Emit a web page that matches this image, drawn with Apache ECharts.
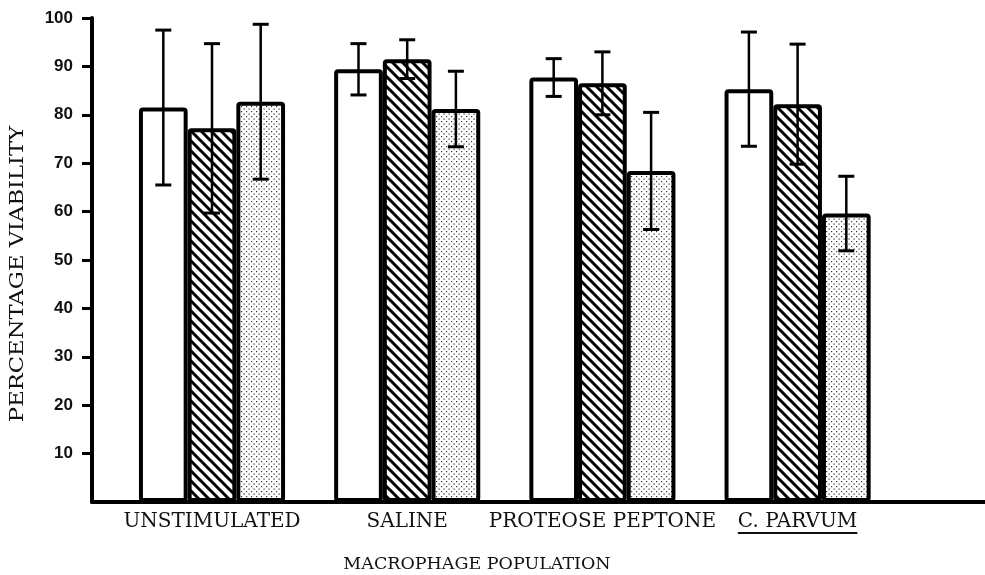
<!DOCTYPE html>
<html>
<head>
<meta charset="utf-8">
<script src="https://cdn.jsdelivr.net/npm/echarts@6/dist/echarts.min.js"></script>
<style>
  html, body { margin: 0; padding: 0; background: #fff; }
  #chart { width: 985px; height: 575px; }
</style>
</head>
<body>
<div id="chart"></div>
<script>
// macrophage groups on the x axis
var categories = ['UNSTIMULATED', 'SALINE', 'PROTEOSE PEPTONE', 'C. PARVUM']
var yTicks = [10, 20, 30, 40, 50, 60, 70, 80, 90, 100]

// mean viability (%) and error (+/-) for the three bar kinds
var openMean = [81.5, 89.4, 87.7, 85.3]
var openErr = [16.0, 5.3, 3.9, 11.8]
var hatchMean = [77.2, 91.5, 86.5, 82.2]
var hatchErr = [17.5, 4.0, 6.5, 12.4]
var dotMean = [82.7, 81.2, 68.4, 59.6]
var dotErr = [16.0, 7.8, 12.1, 7.7]

var barW = 48.7
var serif = '"DejaVu Serif", "Liberation Serif", serif'

function hatchFill() {
  var c = document.createElement('canvas')
  c.width = 10
  c.height = 10
  var g = c.getContext('2d')
  g.fillStyle = '#fff'
  g.fillRect(0, 0, 10, 10)
  g.strokeStyle = '#000'
  g.lineWidth = 3
  g.beginPath()
  g.moveTo(-5, -5); g.lineTo(15, 15)
  g.moveTo(-5, 5); g.lineTo(5, 15)
  g.moveTo(5, -5); g.lineTo(15, 5)
  g.stroke()
  return { image: c, repeat: 'repeat' }
}

function dotFill() {
  var c = document.createElement('canvas')
  c.width = 5
  c.height = 5
  var g = c.getContext('2d')
  g.fillStyle = '#fff'
  g.fillRect(0, 0, 5, 5)
  g.fillStyle = '#333'
  g.fillRect(1, 1, 1.2, 1.2)
  g.fillRect(3.5, 3.5, 1.2, 1.2)
  return { image: c, repeat: 'repeat' }
}

function barSeries(values, fill) {
  return {
    type: 'bar',
    xAxisIndex: 1,
    yAxisIndex: 1,
    data: values,
    barWidth: barW,
    barGap: '0%',
    itemStyle: { color: fill, borderColor: '#000', borderWidth: 4, borderRadius: 2 }
  }
}

function errSeries(values, err, slot) {
  return {
    type: 'custom',
    xAxisIndex: 1,
    yAxisIndex: 1,
    z: 5,
    encode: { x: 0, y: [1, 2] },
    data: values.map(function (v, i) { return [i, v - err[i], v + err[i]] }),
    renderItem: function (params, api) {
      var lo = api.coord([api.value(0), api.value(1)])
      var hi = api.coord([api.value(0), api.value(2)])
      var x = lo[0] + (slot - 1) * barW
      var st = { stroke: '#000', lineWidth: 2.5 }
      var cap = { stroke: '#000', lineWidth: 3 }
      return {
        type: 'group',
        children: [
          { type: 'line', shape: { x1: x, y1: hi[1], x2: x, y2: lo[1] }, style: st },
          { type: 'line', shape: { x1: x - 8, y1: hi[1], x2: x + 8, y2: hi[1] }, style: cap },
          { type: 'line', shape: { x1: x - 8, y1: lo[1], x2: x + 8, y2: lo[1] }, style: cap }
        ]
      }
    }
  }
}

var chart = echarts.init(document.getElementById('chart'))
var labelMargin = 10
var catFont = 20

chart.setOption({
  animation: false,
  backgroundColor: '#fff',
  grid: [
    { left: 92, right: 0, top: 18, bottom: 73, outerBoundsMode: 'none' },
    { left: 114.4, right: 89.8, top: 18, bottom: 73, outerBoundsMode: 'none' }
  ],
  xAxis: [
    {
      gridIndex: 0,
      type: 'value',
      min: 0,
      max: 1,
      axisLine: { show: true, lineStyle: { color: '#000', width: 4 } },
      axisTick: { show: false },
      axisLabel: { show: false },
      splitLine: { show: false }
    },
    {
      gridIndex: 1,
      type: 'category',
      data: categories,
      axisLine: { show: false },
      axisTick: { show: false },
      splitLine: { show: false },
      axisLabel: { margin: labelMargin, color: '#111', fontFamily: serif, fontSize: catFont, interval: 0 }
    }
  ],
  yAxis: [
    {
      gridIndex: 0,
      type: 'value',
      min: 0,
      max: 100,
      interval: 10,
      splitLine: { show: false },
      axisLine: { show: true, lineStyle: { color: '#000', width: 4 } },
      axisTick: { show: true, length: 10, customValues: yTicks, lineStyle: { color: '#000', width: 3 } },
      axisLabel: {
        customValues: yTicks,
        margin: 19,
        color: '#111',
        fontFamily: '"Liberation Sans", Arial, sans-serif',
        fontWeight: 'bold',
        fontSize: 17
      }
    },
    { gridIndex: 1, type: 'value', min: 0, max: 100, show: false }
  ],
  series: [
    barSeries(openMean, '#fff'),
    barSeries(hatchMean, hatchFill()),
    barSeries(dotMean, dotFill()),
    errSeries(openMean, openErr, 0),
    errSeries(hatchMean, hatchErr, 1),
    errSeries(dotMean, dotErr, 2)
  ]
})

// underline under the last category, as in the printed figure
var cx = chart.convertToPixel({ xAxisIndex: 1 }, categories[3])
var ctx = document.createElement('canvas').getContext('2d')
ctx.font = catFont + 'px ' + serif
var tw = ctx.measureText(categories[3]).width
var axisY = 575 - 73
var uy = axisY + labelMargin + 21

chart.setOption({
  graphic: [
    {
      type: 'text',
      x: 18,
      y: 274,
      rotation: Math.PI / 2,
      scaleX: 1.26,
      style: { text: 'PERCENTAGE VIABILITY', font: '18px ' + serif, fill: '#111', textAlign: 'center', textVerticalAlign: 'middle' }
    },
    {
      type: 'text',
      x: 477,
      y: 564,
      style: { text: 'MACROPHAGE POPULATION', font: '17.5px ' + serif, fill: '#111', textAlign: 'center', textVerticalAlign: 'middle' }
    },
    {
      type: 'line',
      shape: { x1: cx - tw / 2, y1: uy, x2: cx + tw / 2, y2: uy },
      style: { stroke: '#111', lineWidth: 2 }
    }
  ]
})
</script>
</body>
</html>
